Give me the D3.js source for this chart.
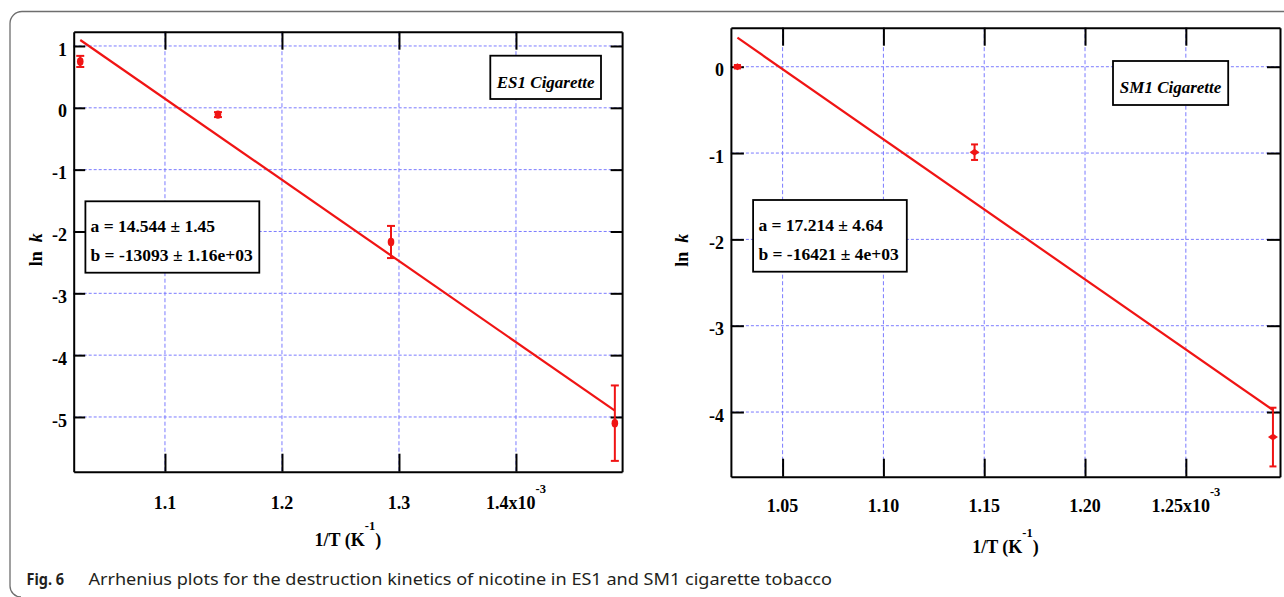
<!DOCTYPE html>
<html><head><meta charset="utf-8">
<script src="https://cdn.jsdelivr.net/npm/d3@7/dist/d3.min.js"></script>
<style>
html,body{margin:0;padding:0;background:#fff;}
svg{display:block;}
</style></head>
<body>
<svg id="chart" width="1284" height="597"></svg>
<script>
// ---------- data ----------
const es1X = [1.0276, 1.1453, 1.2932, 1.4845];      // 1/T (x10^-3 K^-1)
const es1LnK = [0.75, -0.11, -2.17, -5.10];
const es1Err = [0.09, 0.04, 0.26, 0.61];
const es1FitX = [1.0276, 1.4845];
const es1FitY = [1.097, -4.898];
const es1Params = ["a = 14.544 \u00b1 1.45", "b = -13093 \u00b1 1.16e+03"];
const es1XTicks = [1.1, 1.2, 1.3, 1.4];
const es1YTicks = [1, 0, -1, -2, -3, -4, -5];

const sm1X = [1.0276, 1.1452, 1.2932];
const sm1LnK = [0.0, -0.99, -4.29];
const sm1Err = [0.02, 0.09, 0.34];
const sm1FitX = [1.0276, 1.2932];
const sm1FitY = [0.336, -3.977];
const sm1Params = ["a = 17.214 \u00b1 4.64", "b = -16421 \u00b1 4e+03"];
const sm1XTicks = [1.05, 1.10, 1.15, 1.20, 1.25];
const sm1YTicks = [0, -1, -2, -3, -4];

const caption = "Arrhenius plots for the destruction kinetics of nicotine in ES1 and SM1 cigarette tobacco";

// ---------- setup ----------
const svg = d3.select("#chart");
const SERIF = "'Liberation Serif','Times New Roman',serif";
const RED = "#f01414";
const GRID = "#7b7bff";

// outer frame
svg.append("path")
  .attr("d", "M1290,11.5 H22 A12,12 0 0 0 10,23.5 V586 A11,11 0 0 0 21,597")
  .attr("fill", "none").attr("stroke", "#6e6e6e").attr("stroke-width", 1.3);

function panel(cfg) {
  const g = svg.append("g");
  const x = d3.scaleLinear().domain(cfg.xDomain).range([cfg.left, cfg.right]);
  const y = d3.scaleLinear().domain(cfg.yDomain).range([cfg.bottom, cfg.top]);

  // grid
  g.append("g").selectAll("line").data(cfg.xTicks).join("line")
    .attr("x1", d => x(d)).attr("x2", d => x(d))
    .attr("y1", cfg.top).attr("y2", cfg.bottom)
    .attr("stroke", GRID).attr("stroke-width", 1).attr("stroke-dasharray", "4,2.5");
  g.append("g").selectAll("line").data(cfg.yTicks).join("line")
    .attr("y1", d => y(d)).attr("y2", d => y(d))
    .attr("x1", cfg.left).attr("x2", cfg.right)
    .attr("stroke", GRID).attr("stroke-width", 1).attr("stroke-dasharray", "3,2");

  // legend box
  const lb = cfg.legendBox;
  g.append("rect").attr("x", lb[0]).attr("y", lb[1]).attr("width", lb[2]).attr("height", lb[3])
    .attr("fill", "#fff").attr("stroke", "#000").attr("stroke-width", 1.8);
  g.append("text").attr("x", lb[0] + lb[2] / 2).attr("y", cfg.legendBaseline)
    .attr("text-anchor", "middle").attr("font-family", SERIF).attr("font-weight", "bold")
    .attr("font-style", "italic").attr("font-size", 17).text(cfg.legend);

  // params box
  const pb = cfg.paramBox;
  g.append("rect").attr("x", pb[0]).attr("y", pb[1]).attr("width", pb[2]).attr("height", pb[3])
    .attr("fill", "#fff").attr("stroke", "#000").attr("stroke-width", 1.8);
  g.append("g").selectAll("text").data(cfg.params).join("text")
    .attr("x", cfg.paramX).attr("y", (d, i) => cfg.paramBaselines[i])
    .attr("font-family", SERIF).attr("font-weight", "bold").attr("font-size", 17.5)
    .text(d => d);

  // axes
  const styleAxis = sel => {
    sel.select(".domain").attr("stroke", "#000").attr("stroke-width", 2);
    sel.selectAll(".tick line").attr("stroke", "#000").attr("stroke-width", 2);
  };
  g.append("g").attr("transform", `translate(0,${cfg.bottom})`)
    .call(d3.axisBottom(x).tickValues(cfg.xTicks).tickSize(-18).tickSizeOuter(0).tickFormat(""))
    .call(styleAxis);
  g.append("g").attr("transform", `translate(0,${cfg.top})`)
    .call(d3.axisTop(x).tickValues(cfg.xTicks).tickSize(-18).tickSizeOuter(0).tickFormat(""))
    .call(styleAxis);
  g.append("g").attr("transform", `translate(${cfg.left},0)`)
    .call(d3.axisLeft(y).tickValues(cfg.yTicks).tickSize(-cfg.yTickLen).tickSizeOuter(0).tickFormat(""))
    .call(styleAxis);
  g.append("g").attr("transform", `translate(${cfg.right},0)`)
    .call(d3.axisRight(y).tickValues(cfg.yTicks).tickSize(-cfg.yTickLen).tickSizeOuter(0).tickFormat(""))
    .call(styleAxis);
  g.selectAll(".domain").attr("fill", "none");

  // tick labels
  g.append("g").selectAll("text").data(cfg.yTicks).join("text")
    .attr("x", cfg.yLabelRight).attr("y", d => y(d)).attr("dy", "0.53em")
    .attr("text-anchor", "end").attr("font-family", SERIF).attr("font-weight", "bold")
    .attr("font-size", 18).text(d => d3.format("d")(d).replace("\u2212", "-"));
  const xl = g.append("g").selectAll("text").data(cfg.xTicks).join("text")
    .attr("x", d => x(d)).attr("y", cfg.xLabelBaseline)
    .attr("text-anchor", "middle").attr("font-family", SERIF).attr("font-weight", "bold")
    .attr("font-size", 18);
  xl.each(function (d, i) {
    const t = d3.select(this);
    t.append("tspan").text(d3.format(cfg.xFormat)(d) + (i === cfg.xTicks.length - 1 ? "x10" : ""));
    if (i === cfg.xTicks.length - 1) {
      t.append("tspan").attr("dy", -16).attr("font-size", 12.5).text("-3");
    }
  });

  // axis titles
  const xt = g.append("text").attr("x", (cfg.left + cfg.right) / 2).attr("y", cfg.xTitleBaseline)
    .attr("text-anchor", "middle").attr("font-family", SERIF).attr("font-weight", "bold").attr("font-size", 18);
  xt.append("tspan").text("1/T (K");
  xt.append("tspan").attr("dy", -16).attr("font-size", 12.5).text("-1");
  xt.append("tspan").attr("dy", 16).text(")");

  const yt = g.append("text")
    .attr("transform", `translate(${cfg.yTitleX},${(cfg.top + cfg.bottom) / 2 - 2}) rotate(-90)`)
    .attr("text-anchor", "middle").attr("font-family", SERIF).attr("font-weight", "bold").attr("font-size", 18);
  yt.append("tspan").text("ln");
  yt.append("tspan").attr("dx", 9).attr("font-style", "italic").text("k");

  // fit line
  g.append("path")
    .datum(cfg.fitX.map((v, i) => [v, cfg.fitY[i]]))
    .attr("d", d3.line().x(d => x(d[0])).y(d => y(d[1])))
    .attr("fill", "none").attr("stroke", RED).attr("stroke-width", 2.2);

  // error bars + markers
  const pts = cfg.xs.map((v, i) => ({x: v, y: cfg.ys[i], e: cfg.errs[i]}));
  const pg = g.append("g").attr("stroke", RED).attr("stroke-width", 2);
  pg.selectAll(".eb").data(pts).join("line").attr("class", "eb")
    .attr("x1", d => x(d.x)).attr("x2", d => x(d.x))
    .attr("y1", d => y(d.y + d.e)).attr("y2", d => y(d.y - d.e));
  pg.selectAll(".ct").data(pts).join("line").attr("class", "ct")
    .attr("x1", d => x(d.x) - cfg.cap).attr("x2", d => x(d.x) + cfg.cap)
    .attr("y1", d => y(d.y + d.e)).attr("y2", d => y(d.y + d.e));
  pg.selectAll(".cb").data(pts).join("line").attr("class", "cb")
    .attr("x1", d => x(d.x) - cfg.cap).attr("x2", d => x(d.x) + cfg.cap)
    .attr("y1", d => y(d.y - d.e)).attr("y2", d => y(d.y - d.e));
  if (cfg.marker === "ellipse") {
    g.append("g").selectAll("ellipse").data(pts).join("ellipse")
      .attr("cx", d => x(d.x)).attr("cy", d => y(d.y))
      .attr("rx", 3.3).attr("ry", 4.2).attr("fill", RED);
  } else {
    g.append("g").selectAll("path").data(pts).join("path")
      .attr("transform", d => `translate(${x(d.x)},${y(d.y)})`)
      .attr("d", "M-5,0 L0,-3.5 L5,0 L0,3.5 Z").attr("fill", RED);
  }
}

panel({
  left: 73.7, right: 622.1, top: 31.7, bottom: 471.7,
  xDomain: [1.0220, 1.4907], yDomain: [-5.885, 1.231],
  xTicks: es1XTicks, yTicks: es1YTicks, xFormat: ".1f",
  yTickLen: 11.5, yLabelRight: 67, xLabelBaseline: 509, xTitleBaseline: 546, yTitleX: 42,
  legendBox: [490.3, 55.7, 110.7, 43.3], legendBaseline: 87.5, legend: "ES1 Cigarette",
  paramBox: [85.4, 201.3, 173.9, 71.4], paramX: 90.5, paramBaselines: [232, 260.5], params: es1Params,
  fitX: es1FitX, fitY: es1FitY, xs: es1X, ys: es1LnK, errs: es1Err, cap: 4, marker: "ellipse"
});

panel({
  left: 730.9, right: 1280, top: 27.7, bottom: 476.7,
  xDomain: [1.02436, 1.2967], yDomain: [-4.749, 0.452],
  xTicks: sm1XTicks, yTicks: sm1YTicks, xFormat: ".2f",
  yTickLen: 13, yLabelRight: 724, xLabelBaseline: 511.7, xTitleBaseline: 553, yTitleX: 688,
  legendBox: [1113, 61, 115.2, 44], legendBaseline: 92.5, legend: "SM1 Cigarette",
  paramBox: [753.1, 200, 153.7, 71.7], paramX: 758.4, paramBaselines: [231, 259.5], params: sm1Params,
  fitX: sm1FitX, fitY: sm1FitY, xs: sm1X, ys: sm1LnK, errs: sm1Err, cap: 3.5, marker: "diamond"
});

// caption
const cap = svg.append("text").attr("y", 585).attr("font-family", "'Noto Sans','Open Sans',sans-serif")
  .attr("font-size", 16.5).attr("fill", "#231f20");
cap.append("tspan").attr("x", 26.5).attr("font-weight", "bold")
  .attr("textLength", 37.5).attr("lengthAdjust", "spacingAndGlyphs").text("Fig. 6");
cap.append("tspan").attr("x", 88.4)
  .attr("textLength", 743.6).attr("lengthAdjust", "spacingAndGlyphs").text(caption);
</script>
</body></html>
